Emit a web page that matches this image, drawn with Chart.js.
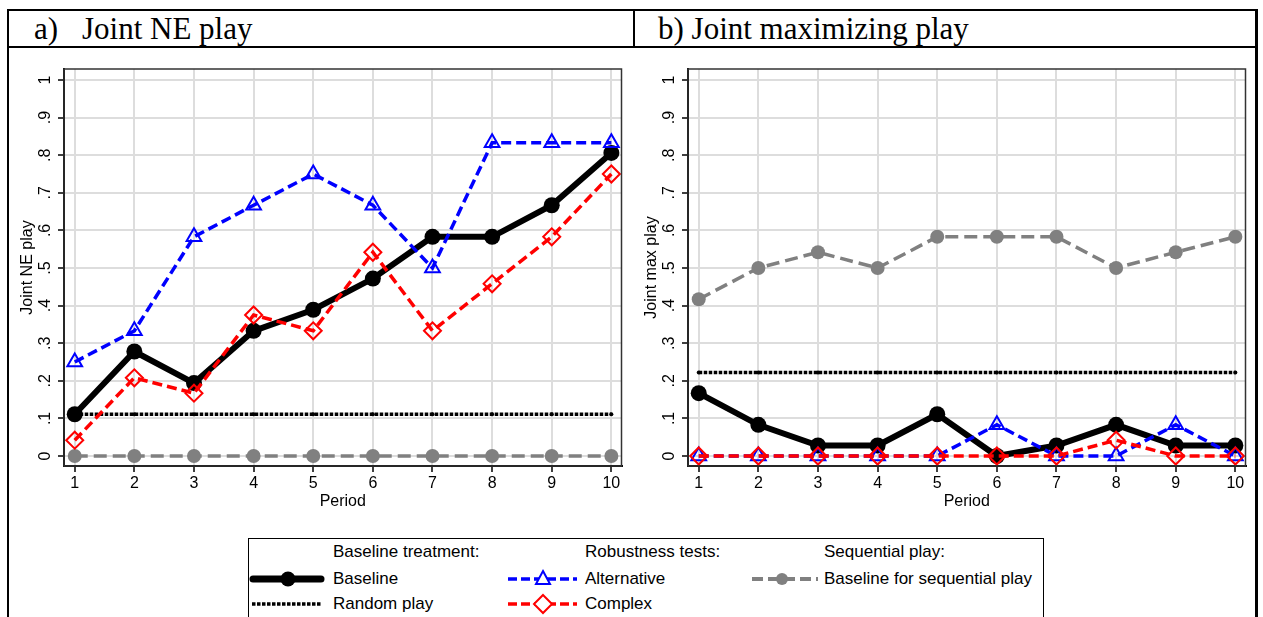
<!DOCTYPE html>
<html>
<head>
<meta charset="utf-8">
<script src="https://cdn.jsdelivr.net/npm/chart.js@4.4.1/dist/chart.umd.min.js"></script>
<style>
body { margin:0; background:#fff; width:1263px; height:617px; overflow:hidden; position:relative; font-family:"Liberation Sans", Arial, sans-serif; }
.rule { position:absolute; background:#000; }
.head { position:absolute; font-family:"Liberation Serif", "Times New Roman", serif; font-size:31px; line-height:31px; top:13px; color:#000; white-space:nowrap; }
canvas { position:absolute; }
#legend { position:absolute; left:248px; top:538px; width:796px; height:100px; border:1px solid #000; box-sizing:border-box; }
.leg { position:absolute; font-size:17px; line-height:20px; color:#000; white-space:nowrap; }
#legend svg { position:absolute; left:0; top:0; }
</style>
</head>
<body>
<div class="rule" style="left:7px;top:9px;width:1250px;height:2px"></div>
<div class="rule" style="left:7px;top:9px;width:2px;height:608px"></div>
<div class="rule" style="left:1255px;top:9px;width:3px;height:608px"></div>
<div class="rule" style="left:7px;top:46px;width:1250px;height:2px"></div>
<div class="rule" style="left:633px;top:9px;width:2px;height:38px"></div>

<div class="head" style="left:34px">a)</div>
<div class="head" style="left:82px">Joint NE play</div>
<div class="head" style="left:658px">b) Joint maximizing play</div>

<canvas id="chartNE" width="624" height="482" style="left:8px;top:48px"></canvas>
<canvas id="chartMax" width="622" height="482" style="left:634px;top:48px"></canvas>

<div id="legend">
  <svg width="798" height="100">
    <line x1="4" y1="40" x2="72" y2="40" stroke="#000" stroke-width="7" stroke-linecap="round"/>
    <circle cx="39" cy="40" r="7.5" fill="#000"/>
    <line x1="3" y1="65" x2="73" y2="65" stroke="#000" stroke-width="3.5" stroke-dasharray="3.5 1.5"/>
    <line x1="259" y1="40" x2="328" y2="40" stroke="#0000ff" stroke-width="3.5" stroke-dasharray="9 4"/>
    <polygon points="294,32 301,45 287,45" fill="#fff" stroke="#0000ff" stroke-width="2"/>
    <line x1="259" y1="65" x2="328" y2="65" stroke="#ff0000" stroke-width="3.5" stroke-dasharray="9 4"/>
    <polygon points="294,56 303,65 294,74 285,65" fill="#fff" stroke="#ff0000" stroke-width="2"/>
    <line x1="503" y1="40" x2="569" y2="40" stroke="#808080" stroke-width="4" stroke-dasharray="11 5"/>
    <circle cx="533" cy="40" r="6" fill="#808080"/>
  </svg>
  <div class="leg" style="left:84px;top:3px">Baseline treatment:</div>
  <div class="leg" style="left:84px;top:30px">Baseline</div>
  <div class="leg" style="left:84px;top:55px">Random play</div>
  <div class="leg" style="left:336px;top:3px">Robustness tests:</div>
  <div class="leg" style="left:336px;top:30px">Alternative</div>
  <div class="leg" style="left:336px;top:55px">Complex</div>
  <div class="leg" style="left:575px;top:3px">Sequential play:</div>
  <div class="leg" style="left:575px;top:30px">Baseline for sequential play</div>
</div>

<script>
// periodi e tick
const periods = [1, 2, 3, 4, 5, 6, 7, 8, 9, 10];
const yTickValues = [0, 0.1, 0.2, 0.3, 0.4, 0.5, 0.6, 0.7, 0.8, 0.9, 1];
const yTickLabels = ['0', '.1', '.2', '.3', '.4', '.5', '.6', '.7', '.8', '.9', '1'];

// a) Joint NE play
const neBaseline    = [0.111, 0.278, 0.194, 0.333, 0.389, 0.472, 0.583, 0.583, 0.667, 0.806];
const neRandom      = [0.111, 0.111, 0.111, 0.111, 0.111, 0.111, 0.111, 0.111, 0.111, 0.111];
const neAlternative = [0.25, 0.333, 0.583, 0.667, 0.75, 0.667, 0.5, 0.833, 0.833, 0.833];
const neComplex     = [0.042, 0.208, 0.167, 0.375, 0.333, 0.542, 0.333, 0.458, 0.583, 0.75];
const neSequential  = [0, 0, 0, 0, 0, 0, 0, 0, 0, 0];

// b) Joint maximizing play
const maxBaseline    = [0.167, 0.083, 0.028, 0.028, 0.111, 0, 0.028, 0.083, 0.028, 0.028];
const maxRandom      = [0.222, 0.222, 0.222, 0.222, 0.222, 0.222, 0.222, 0.222, 0.222, 0.222];
const maxAlternative = [0, 0, 0, 0, 0, 0.083, 0, 0, 0.083, 0];
const maxComplex     = [0, 0, 0, 0, 0, 0, 0, 0.042, 0, 0];
const maxSequential  = [0.417, 0.5, 0.542, 0.5, 0.583, 0.583, 0.583, 0.5, 0.542, 0.583];

function pts(vals) {
    return periods.map((p, i) => ({ x: p, y: vals[i] }));
}

// il primo dataset viene disegnato sopra
function makeSets(base, rand, alt, comp, seq) {
    return [
        {
            label: 'Complex', data: pts(comp),
            borderColor: '#ff0000', borderWidth: 3.5, borderDash: [10, 5],
            pointStyle: 'rectRot', pointRadius: 8.5, pointBorderWidth: 2,
            pointBorderColor: '#ff0000', pointBackgroundColor: 'rgba(0,0,0,0)'
        },
        {
            label: 'Alternative', data: pts(alt),
            borderColor: '#0000ff', borderWidth: 3.5, borderDash: [10, 5],
            pointStyle: 'triangle', pointRadius: 8.5, pointBorderWidth: 2,
            pointBorderColor: '#0000ff', pointBackgroundColor: 'rgba(0,0,0,0)'
        },
        {
            label: 'Baseline', data: pts(base),
            borderColor: '#000000', borderWidth: 6,
            pointStyle: 'circle', pointRadius: 8, pointBorderWidth: 0,
            pointBackgroundColor: '#000000'
        },
        {
            label: 'Random play', data: pts(rand),
            borderColor: '#000000', borderWidth: 3.5, borderDash: [3.5, 1.5],
            pointStyle: 'circle', pointRadius: 2, pointBorderWidth: 0,
            pointBackgroundColor: '#000000'
        },
        {
            label: 'Baseline for sequential play', data: pts(seq),
            borderColor: '#808080', borderWidth: 3.5, borderDash: [13, 6],
            pointStyle: 'circle', pointRadius: 7, pointBorderWidth: 0,
            pointBackgroundColor: '#808080'
        }
    ];
}

const cornice = {
    id: 'cornice',
    afterDraw(chart, args, opts) {
        const { ctx, chartArea: a, scales: { y } } = chart;
        ctx.save();
        ctx.strokeStyle = '#333333';
        ctx.lineWidth = 1.5;
        ctx.strokeRect(a.left, a.top, a.right - a.left, a.bottom - a.top);

        ctx.fillStyle = '#000';
        ctx.textAlign = 'center';
        ctx.textBaseline = 'middle';
        ctx.font = '16px "Liberation Sans", Arial, sans-serif';
        yTickValues.forEach((v, i) => {
            ctx.save();
            ctx.translate(a.left - 18, y.getPixelForValue(v));
            ctx.rotate(-Math.PI / 2);
            ctx.fillText(yTickLabels[i], 0, 0);
            ctx.restore();
        });

        ctx.save();
        ctx.translate(a.left - 36, (a.top + a.bottom) / 2);
        ctx.rotate(-Math.PI / 2);
        ctx.fillText(opts.yTitle, 0, 0);
        ctx.restore();

        ctx.fillText('Period', (a.left + a.right) / 2, a.bottom + 36);
        ctx.restore();
    }
};

function disegna(id, sets, yTitle, yWidth, padRight) {
    const griglia = { color: '#dddddd', lineWidth: 2, tickLength: 6, tickColor: '#000000', tickWidth: 1.5 };
    new Chart(document.getElementById(id), {
        type: 'line',
        data: { datasets: sets },
        options: {
            responsive: false,
            animation: false,
            layout: { padding: { top: 21, right: padRight, left: 0, bottom: 0 } },
            datasets: { line: { clip: false, tension: 0 } },
            plugins: {
                legend: { display: false },
                tooltip: { enabled: false },
                cornice: { yTitle: yTitle }
            },
            scales: {
                x: {
                    type: 'linear', min: 0.82, max: 10.17,
                    afterBuildTicks: s => { s.ticks = periods.map(v => ({ value: v })); },
                    afterFit: s => { s.height = 64; },
                    grid: griglia,
                    border: { color: '#000000', width: 2 },
                    ticks: {
                        color: '#000000', padding: 2, maxRotation: 0, autoSkip: false,
                        font: { size: 16, family: '"Liberation Sans", Arial, sans-serif' },
                        callback: v => String(v)
                    }
                },
                y: {
                    type: 'linear', min: -0.0266, max: 1.0293,
                    afterBuildTicks: s => { s.ticks = yTickValues.map(v => ({ value: v })); },
                    afterFit: s => { s.width = yWidth; },
                    grid: griglia,
                    border: { color: '#000000', width: 2 },
                    ticks: { display: false }
                }
            }
        },
        plugins: [cornice]
    });
}

disegna('chartNE', makeSets(neBaseline, neRandom, neAlternative, neComplex, neSequential), 'Joint NE play', 56, 9);
disegna('chartMax', makeSets(maxBaseline, maxRandom, maxAlternative, maxComplex, maxSequential), 'Joint max play', 54, 10);
</script>
</body>
</html>
